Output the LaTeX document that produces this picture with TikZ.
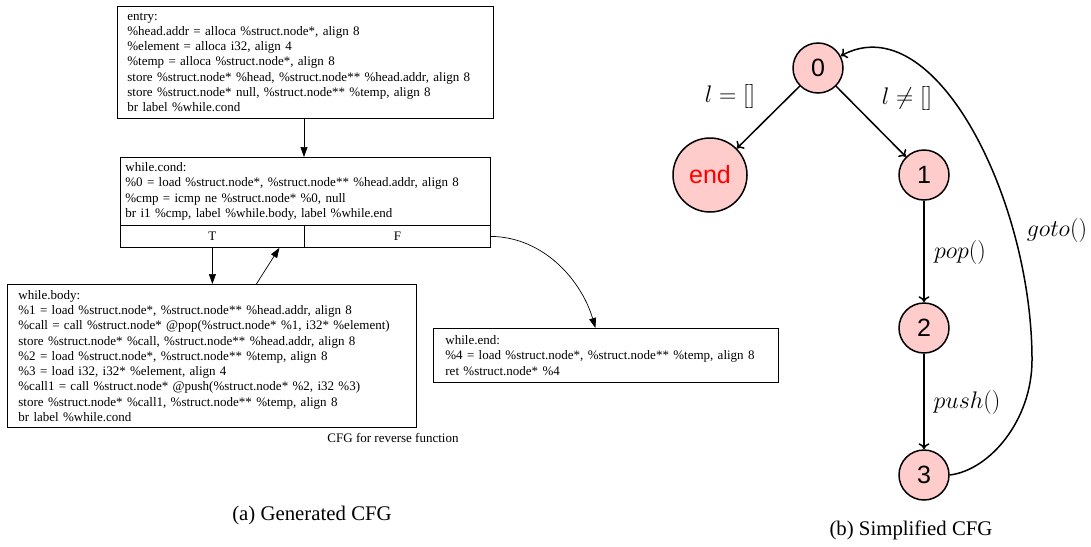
\RequirePackage{fix-cm}
\documentclass[tikz,border=0pt]{standalone}
\usepackage[no-math]{fontspec}
\setmainfont{Liberation Serif}
\newfontfamily\nodesans{Liberation Sans}
\usetikzlibrary{arrows.meta}
\definecolor{statefill}{RGB}{255,204,204}
\begin{document}
\begin{tikzpicture}[x=1pt,y=-1pt,
  codebox/.style={draw=black, line width=0.8pt, anchor=north west, align=left,
    font=\fontsize{13}{15.3}\selectfont, inner ysep=0pt},
  rowbox/.style={draw=black, line width=0.8pt, anchor=north west, inner sep=0pt,
    font=\fontsize{13}{15.3}\selectfont},
  larrow/.style={line width=0.7pt, -{Triangle[length=10pt,width=7pt]}},
  state/.style={circle, draw=black, line width=1.5pt, fill=statefill,
    minimum size=50pt, inner sep=0pt, font=\nodesans\fontsize{25}{25}\selectfont},
  rarrow/.style={line width=1.5pt, -{To[length=6pt,width=11pt]}},
  mlabel/.style={inner sep=0pt, font=\fontsize{24}{28}\selectfont},
  caption/.style={inner sep=0pt, font=\fontsize{20.8}{24}\selectfont}
]
\useasboundingbox (0,0) rectangle (1091,546);

% ---------- left: generated CFG ----------
\node[codebox, inner xsep=10pt, text width=356pt, minimum height=112pt] (entry) at (117,6)
{\mbox{entry:}\\
\mbox{\%head.addr = alloca \%struct.node*, align 8}\\
\mbox{\%element = alloca i32, align 4}\\
\mbox{\%temp = alloca \%struct.node*, align 8}\\
\mbox{store \%struct.node* \%head, \%struct.node** \%head.addr, align 8}\\
\mbox{store \%struct.node* null, \%struct.node** \%temp, align 8}\\
\mbox{br label \%while.cond}};

\node[codebox, inner xsep=5pt, text width=360pt, minimum height=68pt] (cond) at (120,157)
{\mbox{while.cond:}\\
\mbox{\%0 = load \%struct.node*, \%struct.node** \%head.addr, align 8}\\
\mbox{\%cmp = icmp ne \%struct.node* \%0, null}\\
\mbox{br i1 \%cmp, label \%while.body, label \%while.end}};
\node[rowbox, minimum width=184pt, minimum height=22pt] (condT) at (120,225) {T};
\node[rowbox, minimum width=186pt, minimum height=22pt] (condF) at (304,225) {F};

\node[codebox, inner xsep=11pt, text width=387pt, minimum height=143pt] (body) at (7,284)
{\mbox{while.body:}\\
\mbox{\%1 = load \%struct.node*, \%struct.node** \%head.addr, align 8}\\
\mbox{\%call = call \%struct.node* @pop(\%struct.node* \%1, i32* \%element)}\\
\mbox{store \%struct.node* \%call, \%struct.node** \%head.addr, align 8}\\
\mbox{\%2 = load \%struct.node*, \%struct.node** \%temp, align 8}\\
\mbox{\%3 = load i32, i32* \%element, align 4}\\
\mbox{\%call1 = call \%struct.node* @push(\%struct.node* \%2, i32 \%3)}\\
\mbox{store \%struct.node* \%call1, \%struct.node** \%temp, align 8}\\
\mbox{br label \%while.cond}};

\node[codebox, inner xsep=12pt, text width=321pt, minimum height=54pt] (wend) at (433,328)
{\mbox{while.end:}\\
\mbox{\%4 = load \%struct.node*, \%struct.node** \%temp, align 8}\\
\mbox{ret \%struct.node* \%4}};

\node[inner sep=0pt, font=\fontsize{13}{15.3}\selectfont] (cfgtitle) at (393,438) {CFG for reverse function};

\draw[larrow] (condF.north west |- entry.south) -- (condF.north west |- cond.north);
\draw[larrow] (condT.south) -- (condT.south |- body.north);
\draw[larrow] ([xshift=44.5pt]body.north) -- ([xshift=67pt]condT.south);
\draw[larrow] (condF.east) .. controls (545,237) and (582,282) .. ([xshift=-10.5pt]wend.north);

\node[caption] (capa) at (312,515) {(a) Generated CFG};

% ---------- right: simplified CFG ----------
\node[state] (n0) at (818,68) {0};
\node[state, minimum size=74pt, text=red] (nend) at (710,175) {end};
\node[state] (n1) at (924,175) {1};
\node[state] (n2) at (924,328) {2};
\node[state] (n3) at (924,475) {3};

\draw[rarrow] (n0) -- (nend);
\draw[rarrow] (n0) -- (n1);
\draw[rarrow] (n1) -- (n2);
\draw[rarrow] (n2) -- (n3);
\coordinate (gmid) at (1032,360);
\draw[rarrow] (n3.east) .. controls (990,470) and (1032,420) .. (gmid)
  .. controls (1032,200) and (935,5) .. (n0.28);

\node[mlabel] (leq) at (730,96) {$l=[]$};
\node[mlabel] (lneq) at (907,98) {$l\neq[]$};
\node[mlabel] (lpop) at (960,252) {$pop()$};
\node[mlabel] (lpush) at (967,402) {$push()$};
\node[mlabel] (lgoto) at (1057,230) {$goto()$};

\node[caption] (capb) at (911,530) {(b) Simplified CFG};
\end{tikzpicture}
\end{document}
